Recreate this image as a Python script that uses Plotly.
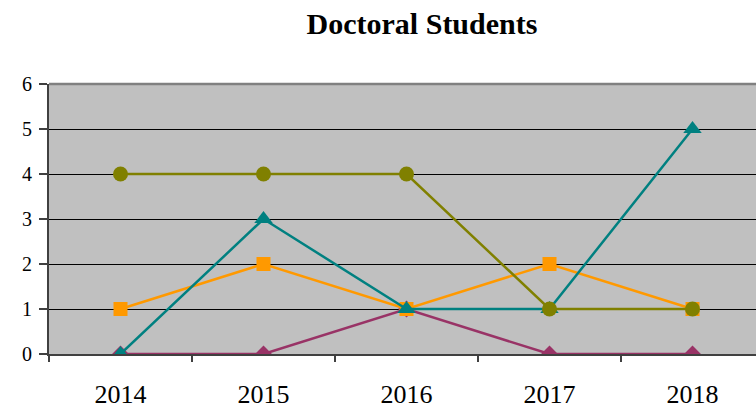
import plotly.graph_objects as go

years = ["2014", "2015", "2016", "2017", "2018"]
series_purple = [0, 0, 1, 0, 0]
series_orange = [1, 2, 1, 2, 1]
series_teal = [0, 3, 1, 1, 5]
series_olive = [4, 4, 4, 1, 1]

FONT = "serif"

fig = go.Figure()
fig.add_trace(go.Scatter(x=years, y=series_purple, mode="lines+markers",
                         line=dict(color="#993366", width=2.5),
                         marker=dict(symbol="diamond", size=13, color="#993366")))
fig.add_trace(go.Scatter(x=years, y=series_orange, mode="lines+markers",
                         line=dict(color="#FF9900", width=2.5),
                         marker=dict(symbol="square", size=14, color="#FF9900")))
fig.add_trace(go.Scatter(x=years, y=series_teal, mode="lines+markers",
                         line=dict(color="#008080", width=2.5),
                         marker=dict(symbol="triangle-up", size=16, color="#008080")))
fig.add_trace(go.Scatter(x=years, y=series_olive, mode="lines+markers",
                         line=dict(color="#808000", width=2.5),
                         marker=dict(symbol="circle", size=15, color="#808000")))

W, H = 756, 410
fig.update_layout(
    width=W, height=H,
    margin=dict(l=49, r=0, t=84, b=56),
    paper_bgcolor="white",
    plot_bgcolor="#C0C0C0",
    showlegend=False,
    hovermode=False,
    title=dict(text="<b>Doctoral Students</b>", font=dict(family=FONT, size=30, color="black"),
               x=422/W, xref="container", xanchor="center",
               y=1-23/H, yref="container", yanchor="middle"),
    font=dict(family=FONT, color="black"),
)
fig.update_xaxes(
    type="category", range=[-0.5, -0.5 + 707/143], tickson="boundaries",
    ticks="outside", ticklen=6, tickcolor="#404040", tickwidth=1.5,
    showgrid=False, showline=True, linecolor="#404040", linewidth=2,
    tickfont=dict(family=FONT, size=26, color="black"), ticklabelstandoff=16,
)
fig.update_yaxes(
    range=[0, 6], dtick=1, tick0=0,
    ticks="outside", ticklen=8, tickcolor="#404040", tickwidth=1.5,
    showgrid=True, gridcolor="black", gridwidth=1, zeroline=False,
    showline=True, linecolor="#404040", linewidth=2,
    tickfont=dict(family=FONT, size=20, color="black"), ticklabelstandoff=3,
)
fig.add_shape(type="line", xref="paper", yref="paper", x0=0, x1=1, y0=1, y1=1,
              line=dict(color="#808080", width=2.5))

fig.write_html("out.html", config={"displayModeBar": False},
               post_script="document.body.style.margin='0';document.body.style.overflow='hidden';")
